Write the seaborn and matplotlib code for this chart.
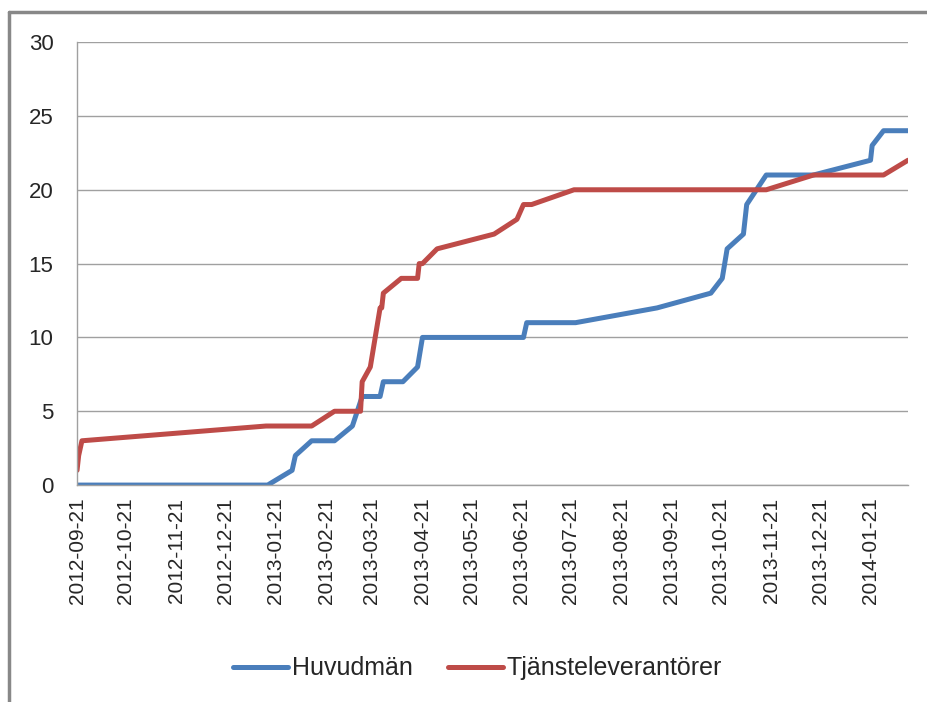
import pandas as pd
import matplotlib.pyplot as plt
import matplotlib.dates as mdates
import seaborn as sns

### ---------------- DATA ---------------- ###
huvudman_dates = ["2012-09-21", "2013-01-16", "2013-01-31", "2013-02-02", "2013-02-12",
                  "2013-02-26", "2013-03-09", "2013-03-12", "2013-03-15", "2013-03-26",
                  "2013-03-28", "2013-04-09", "2013-04-18", "2013-04-21", "2013-06-22",
                  "2013-06-24", "2013-07-24", "2013-09-12", "2013-10-15", "2013-10-22",
                  "2013-10-25", "2013-11-04", "2013-11-06", "2013-11-18", "2013-12-17",
                  "2014-01-21", "2014-01-22", "2014-01-29", "2014-02-13"]
huvudman_values = [0, 0, 1, 2, 3,
                   3, 4, 5, 6, 6,
                   7, 7, 8, 10, 10,
                   11, 11, 12, 13, 14,
                   16, 17, 19, 21, 21,
                   22, 23, 24, 24]

leverantor_dates = ["2012-09-21", "2012-09-22", "2012-09-24", "2013-01-15", "2013-02-12",
                    "2013-02-26", "2013-03-14", "2013-03-15", "2013-03-20", "2013-03-23",
                    "2013-03-26", "2013-03-27", "2013-03-28", "2013-04-08", "2013-04-18",
                    "2013-04-19", "2013-04-21", "2013-04-30", "2013-06-04", "2013-06-18",
                    "2013-06-22", "2013-06-27", "2013-07-23", "2013-11-18", "2013-12-17",
                    "2014-01-29", "2014-02-13"]
leverantor_values = [1, 2, 3, 4, 4,
                     5, 5, 7, 8, 10,
                     12, 12, 13, 14, 14,
                     15, 15, 16, 17, 18,
                     19, 19, 20, 20, 21,
                     21, 22]

# the 21st of every month, 2012-09 .. 2014-01
month_ticks = pd.date_range("2012-09-01", "2014-01-01", freq="MS") + pd.Timedelta(days=20)

### ---------------- PLOT ---------------- ###
df = pd.concat([
    pd.DataFrame({"Datum": pd.to_datetime(huvudman_dates), "Antal": huvudman_values, "Serie": "Huvudmän"}),
    pd.DataFrame({"Datum": pd.to_datetime(leverantor_dates), "Antal": leverantor_values, "Serie": "Tjänsteleverantörer"}),
])

sns.set_style("white")
plt.rcParams["font.family"] = ["Liberation Sans", "DejaVu Sans"]

fig = plt.figure(figsize=(9.27, 7.02), dpi=100)
ax = fig.add_axes([0.0831, 0.309, 0.8964, 0.631])

sns.lineplot(data=df, x="Datum", y="Antal", hue="Serie", sort=False,
             palette=["#4A7EBB", "#BE4B48"], linewidth=3.6, ax=ax, legend=False)

ax.set_xlim(pd.Timestamp("2012-09-21"), pd.Timestamp("2014-02-13"))
ax.set_ylim(0, 30)
ax.set_yticks(range(0, 31, 5))
ax.yaxis.grid(True, color="#A0A0A0", linewidth=1)
ax.set_xticks(month_ticks)
ax.xaxis.set_major_formatter(mdates.DateFormatter("%Y-%m-%d"))
ax.tick_params(axis="x", rotation=90, labelsize=15, length=5, width=1, color="#A0A0A0", direction="out", pad=4)
ax.tick_params(axis="y", labelsize=16, length=6, width=1, color="#A0A0A0", direction="out", pad=11)
ax.set_xlabel("")
ax.set_ylabel("")
for side in ["top", "right"]:
    ax.spines[side].set_visible(False)
for side in ["left", "bottom"]:
    ax.spines[side].set_color("#A0A0A0")
    ax.spines[side].set_linewidth(1)

handles = [plt.Line2D([], [], color="#4A7EBB", linewidth=3.6),
           plt.Line2D([], [], color="#BE4B48", linewidth=3.6)]
fig.legend(handles, ["Huvudmän", "Tjänsteleverantörer"], loc="center", bbox_to_anchor=(0.515, 0.048),
           ncol=2, frameon=False, fontsize=18, handlelength=2.2, handletextpad=0.15, columnspacing=1.4)

# outer chart frame
fig.add_artist(plt.Line2D([0.0097, 0.0097], [0, 0.983], color="#888888", linewidth=2.5))
fig.add_artist(plt.Line2D([0.0097, 1.0], [0.983, 0.983], color="#888888", linewidth=2.5))

fig.savefig("out.png", dpi=100)
